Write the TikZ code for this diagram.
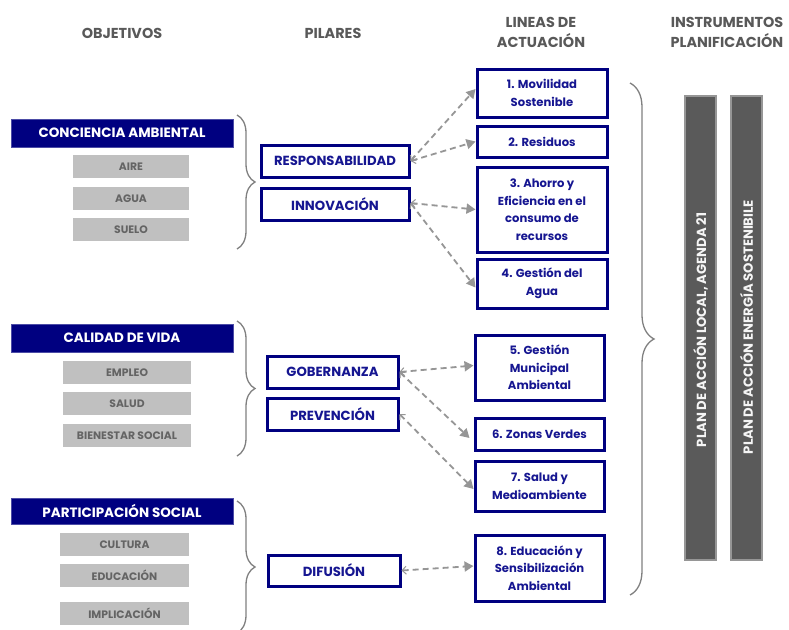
\documentclass[tikz,border=0pt]{standalone}
\usepackage{fontspec}
\setmainfont{Poppins}
\usetikzlibrary{arrows.meta,decorations.pathreplacing}
\definecolor{navy}{RGB}{0,0,128}
\definecolor{ntxt}{RGB}{22,22,145}
\definecolor{hdr}{RGB}{89,89,89}
\definecolor{lgray}{RGB}{192,192,192}
\definecolor{gtxt}{RGB}{100,100,100}
\definecolor{bar}{RGB}{90,90,90}
\definecolor{barb}{RGB}{150,150,150}
\definecolor{arr}{RGB}{150,150,150}
\begin{document}
\begin{tikzpicture}[x=1pt,y=-1pt,
  font=\bfseries,
  hd/.style={text=hdr,align=center,font=\bfseries\fontsize{14.4}{20}\selectfont},
  obj/.style={fill=navy,draw=navy!70!white,line width=0.6pt,text=white,minimum width=222pt,inner sep=0pt,font=\bfseries\fontsize{13.5}{15}\selectfont},
  sub/.style={fill=lgray,text=gtxt,inner sep=0pt,minimum height=23pt,font=\bfseries\fontsize{10.8}{12}\selectfont},
  pil/.style={draw=navy,line width=3pt,fill=white,text=ntxt,inner sep=0pt,minimum height=32pt,font=\bfseries\fontsize{13.2}{15}\selectfont},
  lin/.style={draw=navy,line width=3pt,fill=white,text=ntxt,inner sep=0pt,align=center,font=\bfseries\fontsize{11.6}{17.5}\selectfont},
  brc/.style={draw=gray,line width=1.3pt,decorate,decoration={brace,amplitude=#1}},
  brc/.default=18pt,
  con/.style={draw=arr,line width=1.8pt,dash pattern=on 6pt off 4pt,{Straight Barb[length=4pt,width=8pt,line width=1pt]}-{Triangle[length=9pt,width=10pt]}},
  barst/.style={fill=bar,draw=barb,line width=1.5pt,minimum width=31pt,minimum height=464pt,inner sep=0pt},
  bartxt/.style={rotate=90,text=white!92!gray,font=\bfseries\fontsize{13.2}{15}\selectfont}
]
\useasboundingbox (0,0) rectangle (789,629);
\fill[white] (0,0) rectangle (789,629);
% headers
\node[hd] (h1) at (122,33) {OBJETIVOS};
\node[hd] (h2) at (333,33) {PILARES};
\node[hd] (h3) at (541,32) {LINEAS DE\\ACTUACIÓN};
\node[hd] (h4) at (727,32) {INSTRUMENTOS\\PLANIFICACIÓN};
% objectives
\node[obj,minimum height=28pt] (o1) at (122,133) {CONCIENCIA AMBIENTAL};
\node[sub,minimum width=116pt] (s1) at (131,166.5) {AIRE};
\node[sub,minimum width=116pt] (s2) at (131,198.5) {AGUA};
\node[sub,minimum width=116pt] (s3) at (131,229.5) {SUELO};
\node[obj,minimum height=28pt] (o2) at (122,338) {CALIDAD DE VIDA};
\node[sub,minimum width=128pt] (s4) at (127,372.5) {EMPLEO};
\node[sub,minimum width=128pt] (s5) at (127,403.5) {SALUD};
\node[sub,minimum width=128pt] (s6) at (127,435.5) {BIENESTAR SOCIAL};
\node[obj,minimum height=26pt] (o3) at (122,511) {PARTICIPACIÓN SOCIAL};
\node[sub,minimum width=129pt] (s7) at (124.5,544.5) {CULTURA};
\node[sub,minimum width=129pt] (s8) at (124.5,575.5) {EDUCACIÓN};
\node[sub,minimum width=129pt] (s9) at (124.5,613.5) {IMPLICACIÓN};
% braces
\coordinate (b1a) at (237,115); \coordinate (b1b) at (237,249);
\coordinate (b2a) at (237,321); \coordinate (b2b) at (237,456);
\coordinate (b3a) at (237,501); \coordinate (b3b) at (237,633);
\draw[brc] (b1a) -- (b1b);
\draw[brc] (b2a) -- (b2b);
\draw[brc] (b3a) -- (b3b);
\coordinate (b4a) at (630,83); \coordinate (b4b) at (630,595);
\draw[brc=24pt] (b4a) -- (b4b);
% pillars
\node[pil,minimum width=148pt] (p1) at (335,161) {RESPONSABILIDAD};
\node[pil,minimum width=148pt] (p2) at (335,204) {INNOVACIÓN};
\node[pil,minimum width=131pt] (p3) at (332.5,372) {GOBERNANZA};
\node[pil,minimum width=131pt] (p4) at (332.5,414) {PREVENCIÓN};
\node[pil,minimum width=132pt,minimum height=31pt] (p5) at (334,570.5) {DIFUSIÓN};
% lines
\node[lin,minimum width=130pt,minimum height=48pt] (l1) at (542,93) {1. Movilidad\\Sostenible};
\node[lin,minimum width=130pt,minimum height=31pt] (l2) at (542,141.5) {2. Residuos};
\node[lin,minimum width=130pt,minimum height=85pt] (l3) at (542,209.5) {3. Ahorro y\\Eficiencia en el\\consumo de\\recursos};
\node[lin,minimum width=130pt,minimum height=49pt] (l4) at (542,283.5) {4. Gestión del\\Agua};
\node[lin,minimum width=129pt,minimum height=65pt] (l5) at (539.5,367.5) {5. Gestión\\Municipal\\Ambiental};
\node[lin,minimum width=129pt,minimum height=32pt] (l6) at (539.5,434) {6. Zonas Verdes};
\node[lin,minimum width=129pt,minimum height=50pt] (l7) at (539.5,486) {7. Salud y\\Medioambiente};
\node[lin,minimum width=129pt,minimum height=66pt] (l8) at (539.5,568) {8. Educación y\\Sensibilización\\Ambiental};
% connectors
\draw[con] ([yshift=0pt]p1.east) -- ([yshift=4pt]l1.west);
\draw[con] (p1.east) -- (l2.west);
\draw[con] ([yshift=1pt]p2.east) -- (l3.west);
\draw[con] ([yshift=1pt]p2.east) -- ([yshift=-4pt]l4.west);
\draw[con] (p3.east) -- ([yshift=2pt]l5.west);
\draw[con] (p3.east) -- ([xshift=-4pt,yshift=-4pt]l6.west);
\draw[con] (p4.east) -- ([yshift=-3pt]l7.west);
\draw[con] (p5.east) -- ([yshift=2pt]l8.west);
% bars
\node[barst] (r1) at (700.5,328) {};
\node[barst] (r2) at (746.5,328) {};
\node[bartxt] (t1) at (700.5,330) {PLAN DE ACCIÓN LOCAL, AGENDA 21};
\node[bartxt] (t2) at (746.5,327) {PLAN DE ACCIÓN ENERGÍA SOSTENIBILE};
\end{tikzpicture}
\end{document}
